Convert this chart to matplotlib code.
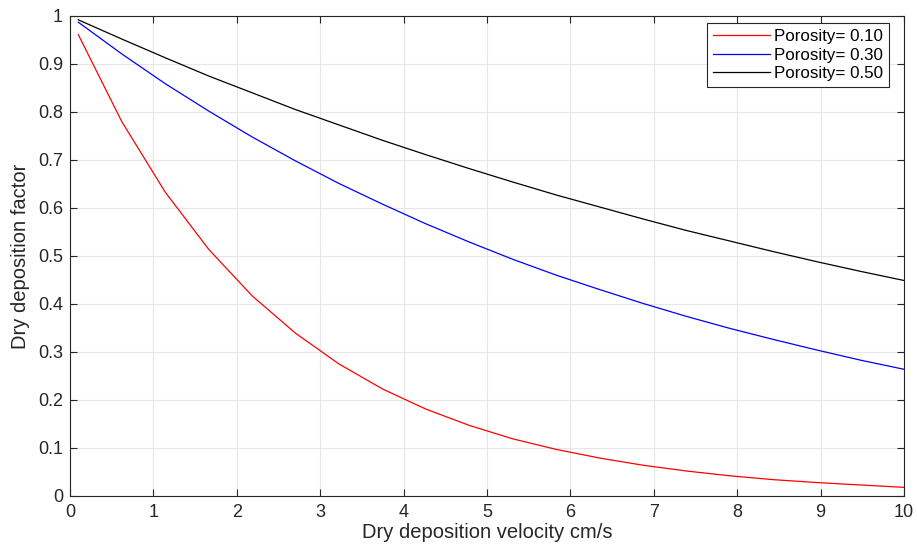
import matplotlib
matplotlib.use("Agg")
import matplotlib.pyplot as plt

plt.rcParams['font.family'] = ['Liberation Sans', 'DejaVu Sans']

# dry deposition velocity (cm/s)
velocity = [0.1, 0.621, 1.142, 1.663, 2.184, 2.705, 3.226, 3.747, 4.268, 4.789,
            5.311, 5.832, 6.353, 6.874, 7.395, 7.916, 8.437, 8.958, 9.479, 10.0]

factor_p10 = [0.961, 0.780, 0.633, 0.514, 0.417, 0.339, 0.275, 0.223, 0.181, 0.147,
              0.119, 0.097, 0.079, 0.064, 0.052, 0.042, 0.034, 0.028, 0.023, 0.018]
factor_p30 = [0.987, 0.921, 0.859, 0.802, 0.748, 0.698, 0.651, 0.608, 0.567, 0.529,
              0.493, 0.460, 0.430, 0.401, 0.374, 0.349, 0.326, 0.304, 0.283, 0.264]
factor_p50 = [0.992, 0.952, 0.913, 0.875, 0.840, 0.805, 0.773, 0.741, 0.711, 0.682,
              0.654, 0.627, 0.602, 0.577, 0.553, 0.531, 0.509, 0.488, 0.468, 0.449]

labels = ["Porosity= 0.10", "Porosity= 0.30", "Porosity= 0.50"]
x_ticks = list(range(0, 11))
y_ticks = [0, 0.1, 0.2, 0.3, 0.4, 0.5, 0.6, 0.7, 0.8, 0.9, 1]
y_tick_labels = ["0", "0.1", "0.2", "0.3", "0.4", "0.5", "0.6", "0.7", "0.8", "0.9", "1"]

W, H = 917, 551
fig = plt.figure(figsize=(W / 100, H / 100), dpi=100)
ax = fig.add_axes([70 / W, 1 - 496 / H, (904 - 70) / W, (496 - 16) / H])

ax.plot(velocity, factor_p10, color="#ff0000", lw=0.9, label=labels[0])
ax.plot(velocity, factor_p30, color="#0000ff", lw=0.9, label=labels[1])
ax.plot(velocity, factor_p50, color="#000000", lw=0.9, label=labels[2])

ax.set_xlim(0, 10)
ax.set_ylim(0, 1)
ax.set_xticks(x_ticks)
ax.set_yticks(y_ticks)
ax.set_yticklabels(y_tick_labels)
ax.tick_params(direction="in", length=5, width=0.8, labelsize=13, colors="#262626",
               top=True, right=True)
ax.tick_params(axis="y", pad=5)
ax.tick_params(axis="x", pad=6)
ax.grid(True, color="#e6e6e6", lw=0.8)
ax.set_axisbelow(True)
for s in ax.spines.values():
    s.set_color("#262626")
    s.set_linewidth(0.8)

ax.set_xlabel("Dry deposition velocity cm/s", fontsize=14.5, color="#262626", labelpad=1)
ax.set_ylabel("Dry deposition factor", fontsize=14.5, color="#262626", labelpad=6)

leg = ax.legend(loc="upper right", fontsize=12.2, fancybox=False, framealpha=1,
                edgecolor="#262626", borderpad=0.35, labelspacing=0.22,
                handlelength=3.35, handletextpad=0.25, borderaxespad=0,
                bbox_to_anchor=(889 / W, 1 - 23 / H), bbox_transform=fig.transFigure)
leg.get_frame().set_linewidth(0.8)

fig.savefig("out.png", dpi=100)
